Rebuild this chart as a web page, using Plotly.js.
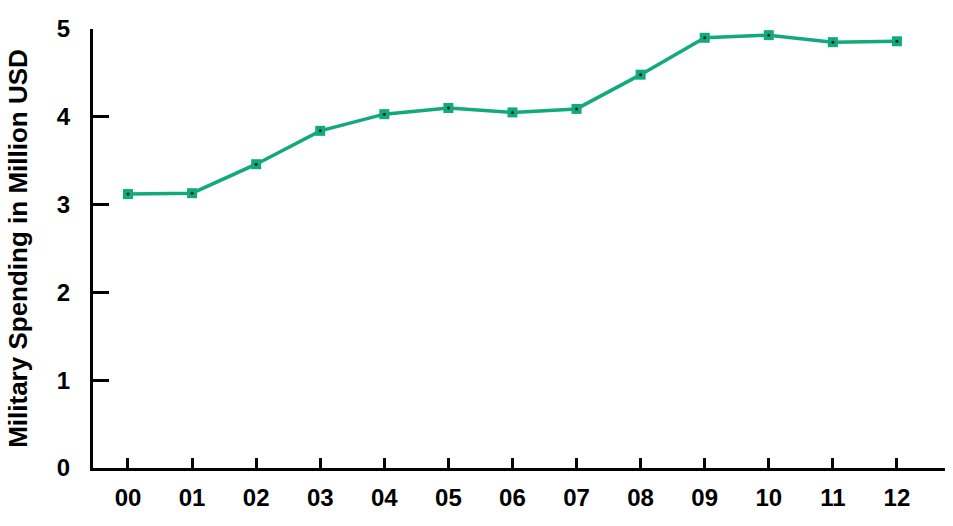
<!DOCTYPE html>
<html>
<head>
<meta charset="utf-8">
<script src="https://cdn.plot.ly/plotly-3.0.1.min.js"></script>
<style>html,body{margin:0;padding:0;background:#fff;}#chart{width:953px;height:526px;}</style>
</head>
<body>
<div id="chart"></div>
<script>
const years = ["00","01","02","03","04","05","06","07","08","09","10","11","12"];
const spending = [3.12, 3.13, 3.46, 3.84, 4.03, 4.10, 4.05, 4.09, 4.48, 4.90, 4.93, 4.85, 4.86];
const yTicks = [0, 1, 2, 3, 4, 5];

const xIdx = years.map((_, i) => i);
const lineColor = "#12a97b";

const traces = [
  {
    x: xIdx, y: spending, type: "scatter", mode: "lines+markers",
    line: {color: lineColor, width: 3.5},
    marker: {symbol: "square", size: 10, color: lineColor},
    hoverinfo: "skip"
  },
  {
    x: xIdx, y: spending, type: "scatter", mode: "markers",
    marker: {symbol: "circle", size: 3, color: "#0b2a20"},
    hoverinfo: "skip"
  }
];

const layout = {
  width: 953, height: 526,
  margin: {l: 93, r: 8, t: 29, b: 58},
  paper_bgcolor: "#ffffff", plot_bgcolor: "#ffffff",
  showlegend: false,
  font: {family: "Liberation Sans, Arial, sans-serif", color: "#000"},
  xaxis: {
    range: [-0.546, 12.75],
    tickvals: xIdx, ticktext: years,
    ticks: "inside", ticklen: 10, tickwidth: 3, tickcolor: "#000",
    showline: true, linecolor: "#000", linewidth: 3,
    showgrid: false, zeroline: false,
    tickfont: {size: 24, family: "Liberation Sans, Arial, sans-serif", color: "#000", weight: "bold"},
    ticklabelstandoff: 6
  },
  yaxis: {
    range: [0, 5],
    tickvals: yTicks, ticktext: yTicks.map(String),
    ticks: "inside", ticklen: 16, tickwidth: 3, tickcolor: "#000",
    showline: true, linecolor: "#000", linewidth: 3,
    showgrid: false, zeroline: false,
    tickfont: {size: 24, family: "Liberation Sans, Arial, sans-serif", color: "#000", weight: "bold"},
    ticklabelstandoff: 15,
    title: {text: "Military Spending in Million USD", standoff: 22,
            font: {size: 26, family: "Liberation Sans, Arial, sans-serif", color: "#000", weight: "bold"}}
  }
};

Plotly.newPlot("chart", traces, layout, {displayModeBar: false, staticPlot: true});
</script>
</body>
</html>
